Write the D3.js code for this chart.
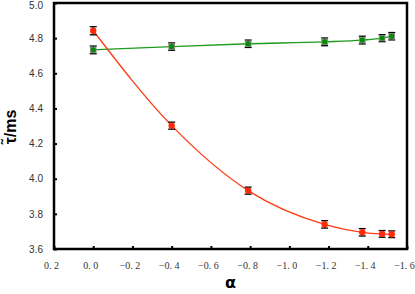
<!DOCTYPE html>
<html>
<head>
<meta charset="utf-8">
<script src="https://cdn.jsdelivr.net/npm/d3@7"></script>
<style>
  body { margin: 0; background: #fff; }
  svg { display: block; }
</style>
</head>
<body>
<svg id="drawing_region"></svg>
<script>
const alpha = [0, -0.4, -0.79, -1.18, -1.372, -1.473, -1.522];
const tauRed = [4.842, 4.302, 3.932, 3.740, 3.695, 3.686, 3.684];
const errRed = [0.023, 0.020, 0.020, 0.021, 0.021, 0.019, 0.019];
const tauGreen = [4.733, 4.752, 4.768, 4.779, 4.789, 4.800, 4.811];
const errGreen = [0.022, 0.021, 0.021, 0.022, 0.022, 0.020, 0.021];
const xTicks = [0.2, 0.0, -0.2, -0.4, -0.6, -0.8, -1.0, -1.2, -1.4, -1.6];
const yTicks = [3.6, 3.8, 4.0, 4.2, 4.4, 4.6, 4.8, 5.0];

const config = {
    width: 415, height: 294,
    left: 54, right: 407, top: 3, bottom: 249
};
const c = config;

const svg = d3.select('#drawing_region')
    .attr('width', c.width)
    .attr('height', c.height);

const x = d3.scaleLinear().domain([0.2, -1.6]).range([c.left, c.right]);
const y = d3.scaleLinear().domain([3.6, 5.0]).range([c.bottom, c.top]);

const red = alpha.map((a, i) => ({a: a, v: tauRed[i], e: errRed[i]}));
const green = alpha.map((a, i) => ({a: a, v: tauGreen[i], e: errGreen[i]}));

// frame
svg.append('rect')
    .attr('x', c.left).attr('y', c.top)
    .attr('width', c.right - c.left).attr('height', c.bottom - c.top)
    .attr('fill', 'none')
    .attr('stroke', '#000')
    .attr('stroke-width', 2.5);

// axes
const fmtX = d => {
    const s = Math.abs(d).toFixed(1).replace('.', '. ');
    return (d < -1e-9 ? '\u2212' : '') + s;
};
const xAxis = svg.append('g')
    .attr('transform', `translate(0,${c.bottom})`)
    .call(d3.axisBottom(x).tickValues(xTicks).tickFormat(fmtX).tickSizeInner(-3).tickSizeOuter(0).tickPadding(13));
xAxis.select('.domain').remove();
xAxis.selectAll('line').attr('stroke', '#000').attr('stroke-width', 2);
xAxis.selectAll('text')
    .attr('dx', -3)
    .attr('font-family', 'Liberation Serif, serif')
    .attr('font-size', 10)
    .attr('fill', '#333');

const yAxis = svg.append('g')
    .attr('transform', `translate(${c.left},0)`)
    .call(d3.axisLeft(y).tickValues(yTicks).tickFormat(d3.format('.1f')).tickSizeInner(-3).tickSizeOuter(0).tickPadding(11));
yAxis.select('.domain').remove();
yAxis.selectAll('line').attr('stroke', '#000').attr('stroke-width', 2);
yAxis.selectAll('text')
    .attr('font-family', 'Liberation Sans, Arial, sans-serif')
    .attr('font-size', 10)
    .attr('fill', '#333');
// keep the top label inside the page
yAxis.selectAll('.tick')
    .filter(d => d === 5.0)
    .select('text')
    .attr('dy', '0.5em');

// lines
const line = d3.line()
    .x(d => x(d.a))
    .y(d => y(d.v))
    .curve(d3.curveMonotoneX);

svg.append('path')
    .datum(green)
    .attr('d', line)
    .attr('fill', 'none')
    .attr('stroke', '#1e9a1e')
    .attr('stroke-width', 1.3);

svg.append('path')
    .datum(red)
    .attr('d', line)
    .attr('fill', 'none')
    .attr('stroke', '#ff3c14')
    .attr('stroke-width', 1.3);

// error bars
function errorBars(data) {
    const g = svg.append('g');
    data.forEach(d => {
        const cx = x(d.a);
        g.append('line')
            .attr('x1', cx).attr('x2', cx)
            .attr('y1', y(d.v + d.e)).attr('y2', y(d.v - d.e))
            .attr('stroke', '#000').attr('stroke-width', 1.2);
        [d.v + d.e, d.v - d.e].forEach(v => {
            g.append('line')
                .attr('x1', cx - 3.5).attr('x2', cx + 3.5)
                .attr('y1', y(v)).attr('y2', y(v))
                .attr('stroke', '#000').attr('stroke-width', 1.3);
        });
    });
}
errorBars(green);
errorBars(red);

// markers
svg.append('g')
    .selectAll('rect')
    .data(green)
    .enter()
    .append('rect')
    .attr('x', d => x(d.a) - 2.8)
    .attr('y', d => y(d.v) - 2.8)
    .attr('width', 5.6)
    .attr('height', 5.6)
    .attr('fill', '#0a8a0a')
    .attr('stroke', '#888')
    .attr('stroke-width', 0.8);

svg.append('g')
    .selectAll('circle')
    .data(red)
    .enter()
    .append('circle')
    .attr('cx', d => x(d.a))
    .attr('cy', d => y(d.v))
    .attr('r', 3.2)
    .attr('fill', '#ff2a0a');

// axis titles
svg.append('text')
    .attr('x', (c.left + c.right) / 2)
    .attr('y', 288)
    .attr('text-anchor', 'middle')
    .attr('font-family', 'DejaVu Sans, sans-serif')
    .attr('font-weight', 'bold')
    .attr('font-size', 16)
    .text('\u03b1');

svg.append('text')
    .attr('transform', `translate(16,127) rotate(-90)`)
    .attr('text-anchor', 'middle')
    .attr('font-family', 'Liberation Sans, Arial, sans-serif')
    .attr('font-weight', 'bold')
    .attr('font-size', 16)
    .text('\u03c4\u0303/ms');
</script>
</body>
</html>
